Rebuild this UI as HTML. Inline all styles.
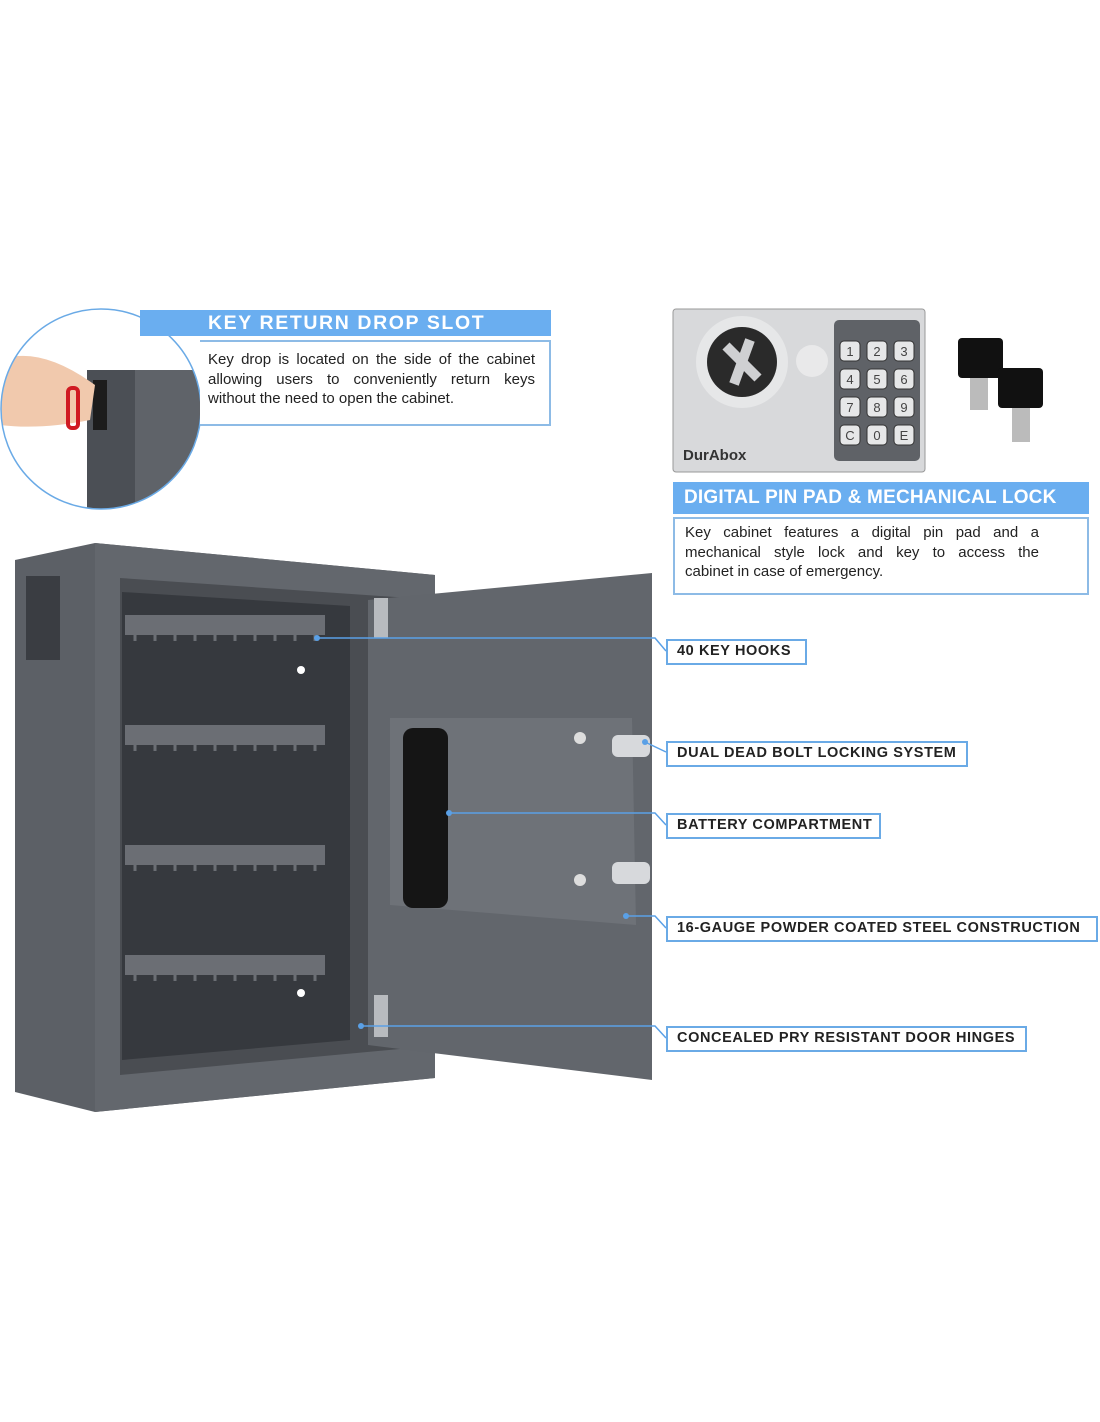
<!DOCTYPE html>
<html><head><style>
body{margin:0;background:#fff;width:1100px;height:1422px;overflow:hidden;position:relative;font-family:"Liberation Sans",sans-serif}
.lb{position:absolute;border:2px solid #6aaae6;background:#fff;font-weight:bold;font-size:14.5px;letter-spacing:.6px;color:#222;box-sizing:border-box;padding-left:9px;line-height:21px;height:26px}
.hd{position:absolute;background:#6aaef0;color:#fff;font-weight:bold;font-size:19px;box-sizing:border-box}
.tx{position:absolute;border:2px solid #8dbbe6;background:#fff;font-size:14.5px;color:#222;line-height:19.5px;text-align:justify;box-sizing:border-box}
.j{text-align:justify;text-align-last:justify;white-space:nowrap}
</style></head><body>
<svg width="1100" height="1422" style="position:absolute;left:0;top:0">
<defs><clipPath id="c"><circle cx="101" cy="409" r="100"/></clipPath></defs>
<polygon points="15,560 95,543 435,575 435,1078 95,1112 15,1092" fill="#5c6066"/>
<polygon points="95,543 435,575 435,1078 95,1112" fill="#63676d"/>
<rect x="26" y="576" width="34" height="84" fill="#3a3d42"/>
<polygon points="120,578 410,598 410,1048 120,1075" fill="#4a4d52"/>
<polygon points="122,592 350,606 350,1040 122,1060" fill="#36393e"/>
<g fill="#6b6e74">
<rect x="125" y="615" width="200" height="20"/><rect x="125" y="725" width="200" height="20"/>
<rect x="125" y="845" width="200" height="20"/><rect x="125" y="955" width="200" height="20"/></g>
<g stroke="#6b6e74" stroke-width="3">
<path d="M135,635v6M155,635v6M175,635v6M195,635v6M215,635v6M235,635v6M255,635v6M275,635v6M295,635v6M315,635v6"/>
<path d="M135,745v6M155,745v6M175,745v6M195,745v6M215,745v6M235,745v6M255,745v6M275,745v6M295,745v6M315,745v6"/>
<path d="M135,865v6M155,865v6M175,865v6M195,865v6M215,865v6M235,865v6M255,865v6M275,865v6M295,865v6M315,865v6"/>
<path d="M135,975v6M155,975v6M175,975v6M195,975v6M215,975v6M235,975v6M255,975v6M275,975v6M295,975v6M315,975v6"/></g>
<circle cx="301" cy="670" r="4" fill="#fff"/><circle cx="301" cy="993" r="4" fill="#fff"/>
<polygon points="368,600 652,573 652,1080 368,1045" fill="#62666c"/>
<polygon points="390,718 632,718 636,925 390,905" fill="#6e7278"/>
<rect x="403" y="728" width="45" height="180" rx="10" fill="#151515"/>
<rect x="612" y="735" width="38" height="22" rx="6" fill="#d7d9dc"/>
<rect x="612" y="862" width="38" height="22" rx="6" fill="#d7d9dc"/>
<circle cx="580" cy="738" r="6" fill="#ddd"/><circle cx="580" cy="880" r="6" fill="#ddd"/>
<rect x="374" y="598" width="14" height="40" fill="#b8bbbf"/><rect x="374" y="995" width="14" height="42" fill="#b8bbbf"/>
<g stroke="#5aa0e6" stroke-width="1.5" fill="none">
<polyline points="317,638 655,638 666,651"/>
<polyline points="645,742 666,752"/>
<polyline points="449,813 655,813 666,825"/>
<polyline points="626,916 655,916 666,928"/>
<polyline points="361,1026 655,1026 666,1038"/>
</g>
<g fill="#5aa0e6"><circle cx="317" cy="638" r="3"/><circle cx="449" cy="813" r="3"/><circle cx="626" cy="916" r="3"/><circle cx="361" cy="1026" r="3"/><circle cx="645" cy="742" r="3"/></g>
<g clip-path="url(#c)">
<rect x="0" y="309" width="202" height="202" fill="#fff"/>
<rect x="87" y="370" width="120" height="150" fill="#4b4f55"/>
<rect x="135" y="370" width="70" height="150" fill="#5f6369"/>
<rect x="93" y="380" width="14" height="50" fill="#1c1c1c"/>
<path d="M0,360 Q40,345 95,385 L90,420 Q40,430 0,425Z" fill="#f1c9ad"/>
<rect x="68" y="388" width="10" height="40" rx="4" fill="none" stroke="#d01a22" stroke-width="4"/>
</g>
<circle cx="101" cy="409" r="100" fill="none" stroke="#6aaae6" stroke-width="1.5"/>
<rect x="673" y="309" width="252" height="163" rx="3" fill="#d8d9db" stroke="#999"/>
<circle cx="742" cy="362" r="46" fill="#e6e7e8"/>
<circle cx="742" cy="362" r="35" fill="#2a2a2a"/>
<path d="M726,346 L758,378 M750,340 L734,384" stroke="#cfd0d2" stroke-width="10"/>
<circle cx="812" cy="361" r="16" fill="#e9e9ea"/>
<rect x="834" y="320" width="86" height="141" rx="5" fill="#5f6267"/>
<g fill="#e6e7e8" stroke="#333" stroke-width="1">
<rect x="840" y="341" width="20" height="20" rx="4"/><rect x="867" y="341" width="20" height="20" rx="4"/><rect x="894" y="341" width="20" height="20" rx="4"/>
<rect x="840" y="369" width="20" height="20" rx="4"/><rect x="867" y="369" width="20" height="20" rx="4"/><rect x="894" y="369" width="20" height="20" rx="4"/>
<rect x="840" y="397" width="20" height="20" rx="4"/><rect x="867" y="397" width="20" height="20" rx="4"/><rect x="894" y="397" width="20" height="20" rx="4"/>
<rect x="840" y="425" width="20" height="20" rx="4"/><rect x="867" y="425" width="20" height="20" rx="4"/><rect x="894" y="425" width="20" height="20" rx="4"/></g>
<g font-size="13" fill="#444" text-anchor="middle" font-family="Liberation Sans">
<text x="850" y="356">1</text><text x="877" y="356">2</text><text x="904" y="356">3</text>
<text x="850" y="384">4</text><text x="877" y="384">5</text><text x="904" y="384">6</text>
<text x="850" y="412">7</text><text x="877" y="412">8</text><text x="904" y="412">9</text>
<text x="850" y="440">C</text><text x="877" y="440">0</text><text x="904" y="440">E</text></g>
<text x="683" y="460" font-size="15" font-weight="bold" fill="#333" font-family="Liberation Sans">DurAbox</text>
<rect x="958" y="338" width="45" height="40" rx="4" fill="#111"/><rect x="970" y="378" width="18" height="32" fill="#bbb"/>
<rect x="998" y="368" width="45" height="40" rx="4" fill="#111"/><rect x="1012" y="408" width="18" height="34" fill="#bbb"/>
</svg>
<div class="hd" style="left:140px;top:310px;width:411px;height:26px;padding-left:68px;line-height:26px;font-size:19.5px;letter-spacing:1.6px">KEY RETURN DROP SLOT</div>
<div class="tx" style="left:200px;top:340px;width:351px;height:86px;padding:8px 14px 0 8px;border-left:none;font-size:15px">Key drop is located on the side of the cabinet allowing users to conveniently return keys without the need to open the cabinet.</div>
<div class="hd" style="left:673px;top:482px;width:416px;height:32px;padding-left:11px;line-height:32px;letter-spacing:.2px">DIGITAL PIN PAD &amp; MECHANICAL LOCK</div>
<div class="tx" style="left:673px;top:517px;width:416px;height:78px;padding:4px 48px 0 10px;font-size:15px"><div class="j">Key cabinet features a digital pin pad and a</div><div class="j">mechanical style lock and key to access the</div><div>cabinet in case of emergency.</div></div>
<div class="lb" style="left:666px;top:639px;width:141px">40 KEY HOOKS</div>
<div class="lb" style="left:666px;top:741px;width:302px">DUAL DEAD BOLT LOCKING SYSTEM</div>
<div class="lb" style="left:666px;top:813px;width:215px">BATTERY COMPARTMENT</div>
<div class="lb" style="left:666px;top:916px;width:432px">16-GAUGE POWDER COATED STEEL CONSTRUCTION</div>
<div class="lb" style="left:666px;top:1026px;width:361px">CONCEALED PRY RESISTANT DOOR HINGES</div>
</body></html>
